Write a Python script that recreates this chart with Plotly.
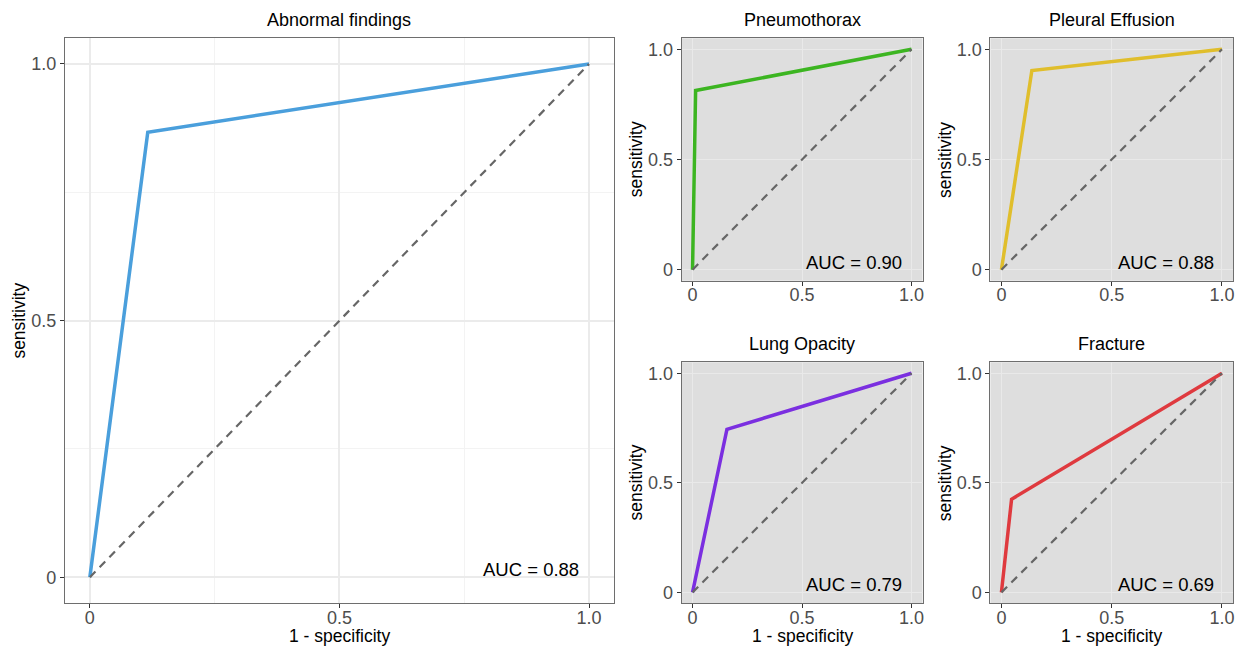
import plotly.graph_objects as go

# ---------------- data ----------------
panel_titles = ["Abnormal findings", "Pneumothorax", "Pleural Effusion", "Lung Opacity", "Fracture"]
fpr_abnormal = [0, 0.116, 1]
tpr_abnormal = [0, 0.867, 1]
fpr_pneumothorax = [0, 0.014, 1]
tpr_pneumothorax = [0, 0.813, 1]
fpr_effusion = [0, 0.138, 1]
tpr_effusion = [0, 0.904, 1]
fpr_opacity = [0, 0.157, 1]
tpr_opacity = [0, 0.744, 1]
fpr_fracture = [0, 0.046, 1]
tpr_fracture = [0, 0.425, 1]
auc_labels = ["AUC = 0.88", "AUC = 0.90", "AUC = 0.88", "AUC = 0.79", "AUC = 0.69"]
chance_x = [0, 1]
chance_y = [0, 1]
tick_vals = [0, 0.5, 1]
tick_text = ["0", "0.5", "1.0"]

# ---------------- styling ----------------
W, H = 1237, 648
FONT = "Liberation Sans, Arial, Helvetica, sans-serif"
colors = ["#4A9FDC", "#3CB521", "#E0BE2C", "#7B2FE0", "#DF3A3F"]
curves = [(fpr_abnormal, tpr_abnormal), (fpr_pneumothorax, tpr_pneumothorax),
          (fpr_effusion, tpr_effusion), (fpr_opacity, tpr_opacity),
          (fpr_fracture, tpr_fracture)]

def px_x(v):
    return v / W

def px_y(v):
    return 1 - v / H

# panel boxes in pixels: (left, right, top, bottom)
boxes = [
    (65, 615, 38.3, 603),
    (682.7, 924, 38.3, 280.7),
    (992, 1235, 38.3, 280.7),
    (682.7, 924, 362.3, 603.3),
    (992, 1235, 362.3, 603.3),
]
auc_pos = [(0.883, 0.015), (0.738, 0.034), (0.745, 0.034), (0.738, 0.034), (0.745, 0.034)]

fig = go.Figure()
layout = dict(
    width=W, height=H,
    margin=dict(l=0, r=0, t=0, b=0),
    paper_bgcolor="white", plot_bgcolor="white",
    showlegend=False,
    font=dict(family=FONT, size=18, color="black"),
)
annotations = []
shapes = []

for i, (box, title, col, (fx, fy), lab, ap) in enumerate(
        zip(boxes, panel_titles, colors, curves, auc_labels, auc_pos)):
    n = "" if i == 0 else str(i + 1)
    xa, ya = "x" + n, "y" + n
    l, r, t, b = box
    grey = i > 0
    axis_common = dict(
        range=[-0.05, 1.05], tickmode="array", tickvals=tick_vals, ticktext=tick_text,
        showline=True, mirror=True, linecolor="#6E6E6E", linewidth=1,
        ticks="outside", ticklen=4, tickcolor="#333333", tickwidth=1,
        tickfont=dict(family=FONT, size=18, color="#4D4D4D"),
        showgrid=True, gridcolor="#E9E9E9" if grey else "#EBEBEB",
        gridwidth=1 if grey else 1.5, zeroline=False, fixedrange=True,
    )
    if not grey:
        axis_common["minor"] = dict(tickmode="array", tickvals=[0.25, 0.75],
                                    showgrid=True, gridcolor="#F3F3F3", gridwidth=1, ticks="")
    layout["xaxis" + n] = dict(axis_common, domain=[px_x(l), px_x(r)], anchor=ya,
                               ticklabelstandoff=-6)
    layout["yaxis" + n] = dict(axis_common, domain=[px_y(b), px_y(t)], anchor=xa)

    if grey:
        shapes.append(dict(type="rect", xref=xa + " domain", yref=ya + " domain",
                           x0=0, x1=1, y0=0, y1=1, fillcolor="#DEDEDE",
                           line=dict(width=0), layer="below"))

    fig.add_trace(go.Scatter(x=fx, y=fy, xaxis=xa, yaxis=ya, mode="lines",
                             line=dict(color=col, width=3.5), hoverinfo="skip"))
    fig.add_trace(go.Scatter(x=chance_x, y=chance_y, xaxis=xa, yaxis=ya, mode="lines",
                             line=dict(color="#666666", width=2.2, dash="8px,6px"),
                             hoverinfo="skip"))

    annotations.append(dict(text=lab, x=ap[0], y=ap[1], xref=xa, yref=ya,
                            xanchor="center", yanchor="middle", showarrow=False,
                            font=dict(family=FONT, size=18.5, color="black")))
    # panel title
    annotations.append(dict(text=title, x=px_x((l + r) / 2), y=px_y(t - 18),
                            xref="paper", yref="paper", xanchor="center", yanchor="middle",
                            showarrow=False, font=dict(family=FONT, size=18, color="black")))
    # y-axis title
    annotations.append(dict(text="sensitivity", x=px_x(l - 46), y=px_y((t + b) / 2),
                            xref="paper", yref="paper", xanchor="center", yanchor="middle",
                            textangle=-90, showarrow=False,
                            font=dict(family=FONT, size=17.5, color="black")))
    # x-axis title only on bottom row
    if i in (0, 3, 4):
        annotations.append(dict(text="1 - specificity", x=px_x((l + r) / 2), y=px_y(b + 33),
                                xref="paper", yref="paper", xanchor="center", yanchor="middle",
                                showarrow=False, font=dict(family=FONT, size=17.5, color="black")))

layout["annotations"] = annotations
layout["shapes"] = shapes
fig.update_layout(**layout)
fig.write_html("out.html", config={"displayModeBar": False},
               post_script="document.body.style.margin='0';")
